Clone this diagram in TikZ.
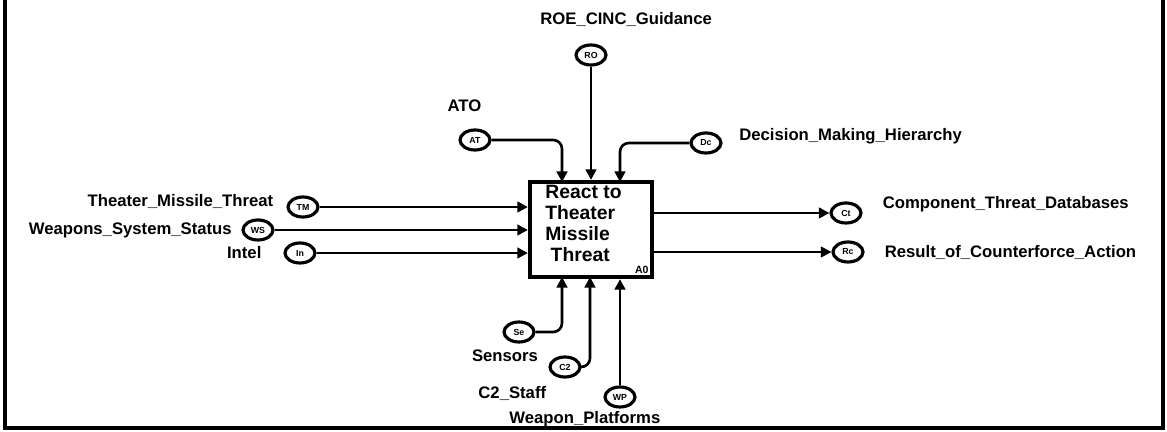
\documentclass[tikz,border=0pt]{standalone}
\usepackage{fontspec}
\setmainfont{Liberation Sans}
\usepackage{tikz}
\usetikzlibrary{shapes,arrows.meta,positioning}
\tikzset{
  tunnel/.style={draw, ellipse, line width=1.8pt, minimum width=0.6cm, minimum height=0.4cm, inner sep=0pt, font=\fontsize{5}{5}\selectfont\bfseries},
  flow/.style={line width=1.5pt, -{Triangle[length=6pt,width=6pt]}, rounded corners=5pt},
  lbl/.style={font=\fontsize{9.5}{10}\selectfont\bfseries}
}

\begin{document}
\begin{tikzpicture}[x=0.02cm, y=-0.02cm]
  \useasboundingbox (0,0) rectangle (1167,432);
  \draw[line width=2.2pt] (5,0) -- (5,428) -- (1163,428) -- (1163,0);

  % activity box
  \node[draw, line width=2.4pt, minimum width=2.44cm, minimum height=1.9cm] (a0) at (591,229.5) {};
  \node[anchor=north west, align=left, inner sep=0pt, font=\fontsize{11}{11.9}\selectfont\bfseries] (a0txt) at (545,185) {React to\\Theater\\Missile\\\ Threat};
  \node[anchor=south east, inner sep=3pt, font=\fontsize{6}{6}\selectfont\bfseries] (a0num) at (a0.south east) {A0};

  % ports on the box
  \coordinate (ct1) at (562,182);
  \coordinate (ct3) at (620,182);
  \coordinate (cb1) at (562,277);
  \coordinate (cb2) at (590,277);

  % inputs
  \node[tunnel, label={[lbl, label distance=4pt, yshift=3pt]left:Theater\_Missile\_Threat}] (tmt) at (303,207) {TM};
  \node[tunnel, label={[lbl, label distance=2pt]left:Weapons\_System\_Status}] (wss) at (258,230) {WS};
  \node[tunnel, label={[lbl, label distance=9pt]left:Intel}] (int) at (300,253) {In};

  % controls
  \node[tunnel, label={[lbl, label distance=6pt, xshift=-6pt]above:ATO}] (ato) at (475,140) {AT};
  \node[tunnel, label={[lbl, label distance=6pt, xshift=20pt]above:ROE\_CINC\_Guidance}] (roe) at (591,55) {RO};
  \node[tunnel, label={[lbl, label distance=6pt, yshift=4pt]right:Decision\_Making\_Hierarchy}] (dmh) at (706,143) {Dc};

  % mechanisms
  \node[tunnel, label={[lbl, label distance=0pt, xshift=-8pt]below:Sensors}] (sen) at (519,332) {Se};
  \node[tunnel, label={[lbl, label distance=1pt, xshift=-30pt]below:C2\_Staff}] (c2s) at (565,367) {C2};
  \node[tunnel, label={[lbl, label distance=-2pt, xshift=-20pt]below:Weapon\_Platforms}] (wpl) at (620,397) {WP};

  % outputs
  \node[tunnel, label={[lbl, label distance=8pt, yshift=5pt]right:Component\_Threat\_Databases}] (ctd) at (846,213) {Ct};
  \node[tunnel, label={[lbl, label distance=8pt]right:Result\_of\_Counterforce\_Action}] (rca) at (848,252) {Rc};

  \draw[flow] (tmt) -- (tmt -| a0.west);
  \draw[flow] (wss) -- (wss -| a0.west);
  \draw[flow] (int) -- (int -| a0.west);

  \draw[flow] (ato) -| (ct1);
  \draw[flow] (roe) -- (roe |- a0.north);
  \draw[flow] (dmh) -| (ct3);

  \draw[flow] (sen) -| (cb1);
  \draw[flow] (c2s) -| (cb2);
  \draw[flow] (wpl) -- (wpl |- a0.south);

  \draw[flow] (ctd -| a0.east) -- (ctd);
  \draw[flow] (rca -| a0.east) -- (rca);
\end{tikzpicture}
\end{document}
